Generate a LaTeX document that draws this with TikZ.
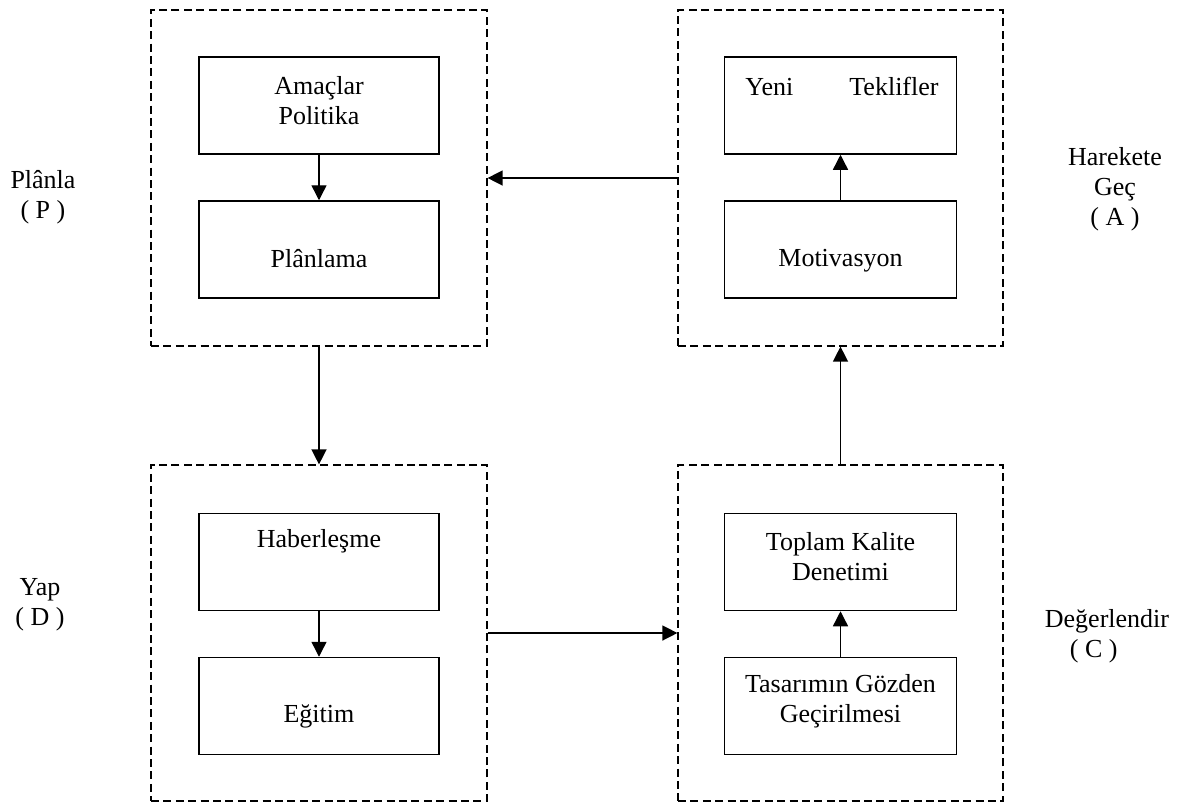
\documentclass[tikz,border=0pt]{standalone}
\usepackage{fontspec}
\setmainfont{Liberation Serif}
\usetikzlibrary{arrows.meta}
\begin{document}
\begin{tikzpicture}[x=0.5pt,y=-0.5pt,
  font=\fontsize{13}{15}\selectfont,
  group/.style={draw, line width=0.6pt, dash pattern=on 4pt off 2.2pt, minimum width=#1, minimum height=168pt, inner sep=0pt},
  box/.style={draw, line width=0.75pt, minimum width=#1, minimum height=48.5pt, inner sep=0pt},
  txt/.style={align=center, inner sep=0pt},
  arr/.style={line width=0.7pt, -{Triangle[length=7.5pt,width=7.5pt]}}]
\useasboundingbox (0,0) rectangle (1201,805);
% phase groups
\node[group=168pt] (PG) at (319,178) {};
\node[group=162.5pt] (AG) at (840.5,178) {};
\node[group=168pt] (DG) at (319,633) {};
\node[group=162.5pt] (CG) at (840.5,633) {};
% inner boxes
\node[box=120pt] (amac) at (319,105.5) {};
\node[box=120pt] (plan) at (319,249.5) {};
\node[box=116pt] (yeni) at (840.5,105.5) {};
\node[box=116pt] (motiv) at (840.5,249.5) {};
\node[box=120pt] (haber) at (319,562) {};
\node[box=120pt] (egitim) at (319,706) {};
\node[box=116pt] (toplam) at (840.5,562) {};
\node[box=116pt] (tasar) at (840.5,706) {};
% box texts
\node[txt] (tamac) at (319,101) {Amaçlar\\Politika};
\node[txt] (tplan) at (319,259) {Plânlama};
\node[txt] (tyeni) at (842,86) {Yeni\hspace{28pt}Teklifler};
\node[txt] (tmotiv) at (840.5,261) {Motivasyon};
\node[txt] (thaber) at (319,541) {Haberleşme};
\node[txt] (tegitim) at (319,716) {Eğitim};
\node[txt] (ttoplam) at (840.5,557) {Toplam Kalite\\Denetimi};
\node[txt] (ttasar) at (840.5,701) {Tasarımın Gözden\\Geçirilmesi};
% phase labels
\node[txt] (lP) at (43,197) {Plânla\\( P )};
\node[txt] (lA) at (1115,189) {Harekete\\Geç\\( A )};
\node[txt] (lD) at (40,605) {Yap\\( D )};
\node[txt, align=left] (lC) at (1107,636) {Değerlendir\\\hspace*{12.5pt}( C )};
% connectors
\draw[arr] (amac) -- (plan);
\draw[arr] (motiv) -- (yeni);
\draw[arr] (haber) -- (egitim);
\draw[arr] (tasar) -- (toplam);
\draw[arr] (AG.west) -- (PG.east);
\draw[arr] (PG.south) -- (DG.north);
\draw[arr] (DG.east) -- (CG.west);
\draw[arr] (CG.north) -- (AG.south);
\end{tikzpicture}
\end{document}
